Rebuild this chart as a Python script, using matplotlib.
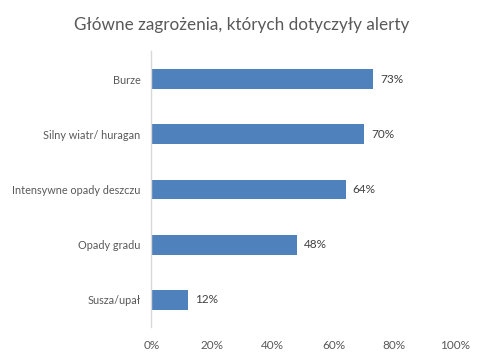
import matplotlib
matplotlib.use("Agg")
import matplotlib.pyplot as plt
from matplotlib.ticker import FuncFormatter

categories = ["Burze", "Silny wiatr/ huragan", "Intensywne opady deszczu", "Opady gradu", "Susza/upał"]
values = [73, 70, 64, 48, 12]
xticks = [0, 20, 40, 60, 80, 100]

plt.rcParams['font.family'] = ['Lato', 'DejaVu Sans']

fig = plt.figure(figsize=(4.84, 3.6), dpi=100)
ax = fig.add_axes([0.313, 0.0903, 0.627, 0.7667])

ypos = list(range(len(categories)))
ax.barh(ypos, values, height=0.36, color="#4F81BD")
ax.set_yticks(ypos)
ax.set_yticklabels(categories)
ax.set_ylim(len(categories) - 0.5, -0.5)
ax.set_xlim(0, 100)
ax.set_xticks(xticks)
ax.xaxis.set_major_formatter(FuncFormatter(lambda v, p: f"{int(v)}%"))

for y, v in zip(ypos, values):
    ax.annotate(f"{v}%", (v, y), xytext=(5, 0), textcoords="offset points",
                va="center", ha="left", fontsize=8.5, color="#404040")

for s in ["top", "right", "bottom"]:
    ax.spines[s].set_visible(False)
ax.spines["left"].set_color("#D9D9D9")
ax.spines["left"].set_linewidth(1)
ax.tick_params(axis="both", length=0, labelsize=8.5, labelcolor="#595959")
ax.tick_params(axis="y", pad=8, labelsize=7.8)
ax.tick_params(axis="x", pad=9)

fig.text(0.5, 0.93, "Główne zagrożenia, których dotyczyły alerty", ha="center", va="center",
         fontsize=12.3, color="#595959")

fig.savefig("out.png", dpi=100)
